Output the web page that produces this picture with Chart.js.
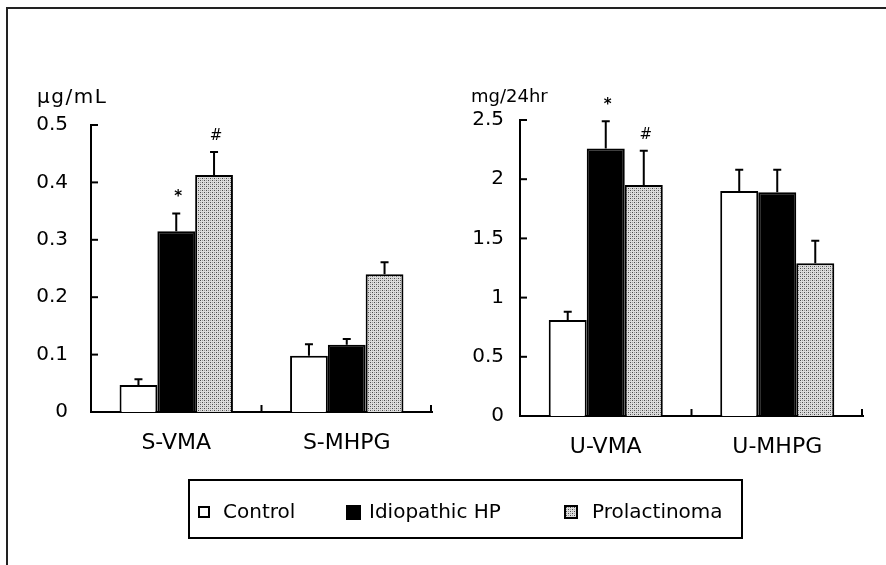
<!DOCTYPE html>
<html>
<head>
<meta charset="utf-8">
<script src="https://cdn.jsdelivr.net/npm/chart.js@4.4.1/dist/chart.umd.min.js"></script>
<style>
  html, body { margin: 0; padding: 0; background: #fff; }
  #page { position: relative; width: 886px; height: 565px; overflow: hidden; background: #fff;
          font-family: "DejaVu Sans", sans-serif; color: #000; }
  canvas.chart { position: absolute; left: 0; top: 0; }
  .frameTop { position: absolute; left: 6px; top: 7px; width: 880px; height: 2px; background: #222; }
  .frameLeft { position: absolute; left: 6px; top: 7px; width: 2px; height: 558px; background: #222; }
  .unit { position: absolute; white-space: nowrap; }
  #legend { position: absolute; left: 188px; top: 479px; width: 555px; height: 60px;
            border: 2px solid #000; box-sizing: border-box; }
  .sw { position: absolute; box-sizing: border-box; border: 2px solid #000; }
  .lt { position: absolute; font-size: 20px; line-height: 24px; white-space: nowrap; }
</style>
</head>
<body>
<div id="page">
  <div class="frameTop"></div>
  <div class="frameLeft"></div>
  <canvas class="chart" id="left" width="886" height="565"></canvas>
  <canvas class="chart" id="right" width="886" height="565"></canvas>
  <div class="unit" id="unitL" style="left:37px; top:84px; font-size:20px; letter-spacing:1.5px;">μg/mL</div>
  <div class="unit" id="unitR" style="left:471px; top:85px; font-size:18px;">mg/24hr</div>
  <div id="legend"></div>
</div>
<script>
// ---------- data ----------
const seriesNames = ['Control', 'Idiopathic HP', 'Prolactinoma'];

const catsLeft = ['S-VMA', 'S-MHPG'];
const controlLeft = [0.047, 0.098];
const controlLeftErr = [0.010, 0.020];
const idioLeft = [0.315, 0.117];
const idioLeftErr = [0.031, 0.010];
const prolLeft = [0.413, 0.240];
const prolLeftErr = [0.040, 0.021];
const marksLeft = [['', ''], ['*', ''], ['#', '']];
const ticksLeft = ['0', '0.1', '0.2', '0.3', '0.4', '0.5'];

const catsRight = ['U-VMA', 'U-MHPG'];
const controlRight = [0.81, 1.90];
const controlRightErr = [0.07, 0.18];
const idioRight = [2.26, 1.89];
const idioRightErr = [0.23, 0.19];
const prolRight = [1.95, 1.29];
const prolRightErr = [0.29, 0.19];
const marksRight = [['', ''], ['*', ''], ['#', '']];
const ticksRight = ['0', '0.5', '1', '1.5', '2', '2.5'];

// ---------- pattern ----------
function makePattern() {
  const c = document.createElement('canvas');
  c.width = 4; c.height = 4;
  const g = c.getContext('2d');
  g.fillStyle = '#dcdcdc'; g.fillRect(0, 0, 4, 4);
  g.fillStyle = '#4a4a4a';
  g.fillRect(0, 0, 1, 1); g.fillRect(2, 2, 1, 1);
  g.fillStyle = '#9a9a9a';
  g.fillRect(2, 0, 1, 1); g.fillRect(0, 2, 1, 1);
  return g.createPattern(c, 'repeat');
}
const pattern = makePattern();
const fills = ['#ffffff', '#000000', pattern];

// ---------- plugins ----------
const errPlugin = {
  id: 'errbars',
  afterDatasetsDraw(chart) {
    const ctx = chart.ctx, y = chart.scales.y, x = chart.scales.x;
    ctx.save();
    ctx.strokeStyle = '#000';
    ctx.fillStyle = '#000';
    ctx.lineWidth = 2;
    chart.data.datasets.forEach((ds, i) => {
      const meta = chart.getDatasetMeta(i);
      meta.data.forEach((el, j) => {
        const v = ds.data[j], e = ds.err[j];
        const yTop = y.getPixelForValue(v);
        const yE = y.getPixelForValue(v + e);
        ctx.beginPath();
        ctx.moveTo(el.x, yTop);
        ctx.lineTo(el.x, yE);
        ctx.moveTo(el.x - 4, yE);
        ctx.lineTo(el.x + 4, yE);
        ctx.stroke();
        const m = ds.marks[j];
        if (m) {
          ctx.font = (m === '*' ? 'bold 15px' : '15px') + ' "DejaVu Sans"';
          ctx.textAlign = 'center';
          ctx.textBaseline = 'middle';
          ctx.fillText(m, el.x + 2, yE - (m === '*' ? 16 : 16));
        }
      });
    });
    // inward ticks
    y.ticks.forEach((t) => {
      const py = y.getPixelForValue(t.value);
      ctx.beginPath();
      ctx.moveTo(chart.chartArea.left, py);
      ctx.lineTo(chart.chartArea.left + 7, py);
      ctx.stroke();
    });
    const n = chart.data.labels.length;
    for (let k = 0; k < n; k++) {
      let px;
      if (k < n - 1) px = (x.getPixelForValue(k) + x.getPixelForValue(k + 1)) / 2;
      else px = chart.chartArea.right - 1;
      ctx.beginPath();
      ctx.moveTo(px, chart.chartArea.bottom);
      ctx.lineTo(px, chart.chartArea.bottom - 7);
      ctx.stroke();
    }
    ctx.restore();
  }
};

function build(id, cats, vals, errs, marks, tickLabels, maxV, step, pad, labelPad) {
  const datasets = seriesNames.map((name, i) => ({
    label: name,
    data: vals[i],
    err: errs[i],
    marks: marks[i],
    backgroundColor: fills[i],
    borderColor: '#000',
    borderWidth: 2,
    categoryPercentage: 0.665,
    barPercentage: 1.0
  }));
  return new Chart(document.getElementById(id), {
    type: 'bar',
    data: { labels: cats, datasets },
    options: {
      responsive: false,
      animation: false,
      events: [],
      layout: { padding: pad },
      plugins: { legend: { display: false }, tooltip: { enabled: false } },
      scales: {
        x: {
          grid: { display: false, drawTicks: false },
          border: { display: true, color: '#000', width: 2 },
          ticks: { color: '#000', font: { family: 'DejaVu Sans', size: 22 }, padding: 18, maxRotation: 0 },
          afterFit: s => { s.height = 40; }
        },
        y: {
          min: 0, max: maxV,
          grid: { display: false, drawTicks: false },
          border: { display: true, color: '#000', width: 2 },
          ticks: {
            stepSize: step, color: '#000', padding: labelPad,
            font: { family: 'DejaVu Sans', size: 20 },
            callback: (v, i) => tickLabels[i]
          },
          afterFit: s => { s.width = 75; }
        }
      }
    },
    plugins: [errPlugin]
  });
}

build('left', catsLeft,
  [controlLeft, idioLeft, prolLeft],
  [controlLeftErr, idioLeftErr, prolLeftErr],
  marksLeft, ticksLeft, 0.5, 0.1,
  { left: 91 - 75, right: 886 - 432, top: 125, bottom: 565 - 412 - 40 }, 23);

build('right', catsRight,
  [controlRight, idioRight, prolRight],
  [controlRightErr, idioRightErr, prolRightErr],
  marksRight, ticksRight, 2.5, 0.5,
  { left: 520 - 75, right: 886 - 863, top: 120, bottom: 565 - 416 - 40 }, 16);

// ---------- legend ----------
const legend = document.getElementById('legend');
const swLeft = [8, 156, 374];
const swSize = [12, 15, 14];
const textLeft = [33, 179, 402];
seriesNames.forEach((name, i) => {
  const sw = document.createElement('div');
  sw.className = 'sw';
  sw.style.left = swLeft[i] + 'px';
  sw.style.width = swSize[i] + 'px';
  sw.style.height = swSize[i] + 'px';
  sw.style.top = (31 - swSize[i] / 2) + 'px';
  if (i === 0) sw.style.background = '#fff';
  else if (i === 1) sw.style.background = '#000';
  else {
    const c = document.createElement('canvas');
    c.width = 12; c.height = 12;
    const g = c.getContext('2d');
    g.fillStyle = pattern; g.fillRect(0, 0, 12, 12);
    sw.style.backgroundImage = 'url(' + c.toDataURL() + ')';
  }
  legend.appendChild(sw);
  const t = document.createElement('div');
  t.className = 'lt';
  t.style.left = textLeft[i] + 'px';
  t.style.top = '18px';
  t.textContent = name;
  legend.appendChild(t);
});
</script>
</body>
</html>
